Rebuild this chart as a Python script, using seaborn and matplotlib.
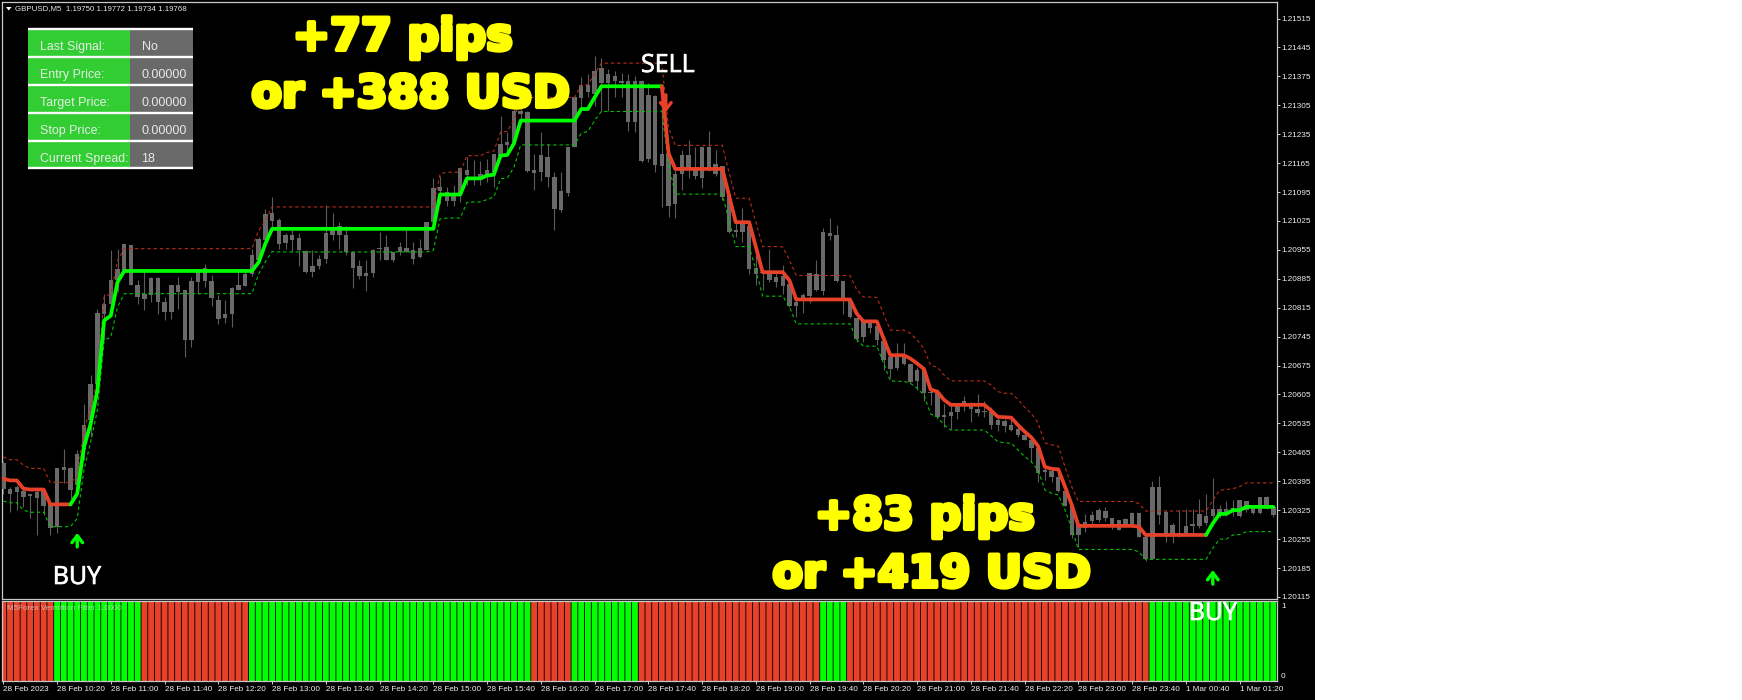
import matplotlib
matplotlib.use("Agg")
import matplotlib.pyplot as plt
import matplotlib.patheffects as pe
from matplotlib.patches import Rectangle, Polygon
import numpy as np
import pandas as pd
import seaborn as sns

# prices are stored in points above 1.20000
body_top = [438,377,380,371,364,369,373,339,428,430,428,462,532,631,802,825,883,909,970,967,
 869,849,886,888,830,869,871,857,879,909,912,879,834,801,863,869,896,942,982,1042,
 1045,1028,992,990,984,952,917,932,996,1010,1012,992,950,916,900,955,960,963,951,961,
 959,955,959,1022,1105,1107,1096,1087,1153,1149,1131,1139,1149,1186,1212,1217,1290,1292,1289,1149,
 1185,1181,1132,1097,1205,1324,1354,1354,1388,1395,1380,1376,1364,1363,1363,1363,1330,1328,1187,1187,
 1138,1184,1184,1151,1204,1205,1162,1158,1091,1002,1022,1014,911,901,899,889,891,873,829,845,
 900,897,998,997,992,880,833,789,785,779,770,734,696,698,698,680,664,666,610,609,
 555,563,577,589,585,571,566,563,543,541,531,521,507,495,475,422,421,406,372,338,
 289,296,314,325,324,305,301,303,317,317,261,381,381,321,289,269,287,291,316,311,
 329,327,327,331,349,347,336,356,357,333]
body_bot = [377,364,368,357,360,355,335,282,285,422,373,385,470,543,631,800,825,881,904,871,
 841,837,847,829,805,805,853,738,736,877,879,838,788,789,799,859,867,896,930,978,
 1026,970,971,980,954,901,901,917,932,992,992,950,911,893,891,899,957,930,930,951,
 951,934,938,955,1022,1097,1074,1074,1091,1137,1127,1123,1135,1143,1183,1209,1216,1285,1147,1141,
 1143,1132,1054,1052,1093,1205,1322,1338,1332,1360,1360,1364,1360,1265,1265,1171,1175,1161,1159,1062,
 1067,1138,1153,1135,1129,1151,1138,1083,998,998,998,909,897,899,881,877,868,819,819,833,
 843,857,855,989,879,837,793,740,743,767,738,688,666,668,680,636,638,609,608,550,
 550,553,563,579,569,559,563,531,531,529,519,507,496,475,416,418,405,372,335,265,
 265,281,300,302,307,289,278,289,289,261,208,208,313,265,266,265,270,287,287,293,
 311,313,316,321,311,325,317,317,333,313]
high_pts = [443,381,385,377,365,381,377,345,428,474,430,470,581,653,813,849,954,958,970,967,
 881,901,889,889,841,869,889,857,889,909,921,895,845,833,865,901,901,958,986,1053,
 1083,1033,996,1002,996,954,955,942,1063,1045,1022,1012,951,930,930,958,998,990,951,974,
 1002,974,982,1022,1130,1135,1107,1111,1155,1179,1173,1170,1175,1187,1278,1240,1304,1316,1291,1187,
 1241,1211,1143,1143,1205,1326,1374,1380,1425,1420,1392,1388,1384,1380,1376,1365,1360,1330,1356,1200,
 1151,1196,1221,1204,1205,1242,1196,1159,1100,1026,1057,1022,950,905,956,901,919,881,841,851,
 900,931,1009,1033,1016,880,837,793,785,785,777,741,700,729,729,682,672,668,620,612,
 583,583,583,601,588,606,589,574,549,545,551,527,519,499,483,430,426,414,374,342,
 293,316,324,330,333,305,301,305,321,319,265,396,408,325,293,325,328,329,353,363,
 402,337,347,349,349,348,336,356,359,335]
low_pts = [365,321,325,333,305,265,313,265,269,391,353,365,446,502,607,736,796,853,901,869,
 825,809,829,800,786,788,813,696,720,849,865,818,776,778,768,857,867,891,925,970,
 1006,956,958,951,917,900,889,909,923,980,958,942,863,885,855,889,931,930,926,942,
 950,921,936,954,1006,1066,1061,1061,1070,1111,1111,1111,1119,1107,1179,1183,1212,1260,1143,1099,
 1121,1108,1002,1046,1086,1203,1300,1324,1304,1292,1292,1324,1324,1242,1240,1167,1167,1143,1058,1034,
 1033,1101,1129,1127,1105,1147,1135,1075,997,986,974,897,870,857,877,865,849,817,793,802,
 827,855,845,980,877,801,789,732,733,754,725,664,644,664,676,632,617,590,579,545,
 527,521,545,566,539,553,551,521,517,515,517,501,496,442,392,398,394,370,334,257,
 237,271,290,296,300,279,277,285,287,259,203,206,291,249,245,261,265,265,283,289,
 305,307,311,311,309,321,315,316,329,309]
mid_pts = [401,397,397,377,375,375,375,339,339,339,339,365,478,534,615,784,796,877,904,904,
 904,904,904,904,904,904,904,904,904,904,904,904,904,904,904,904,904,904,925,970,
 1006,1006,1006,1006,1006,1006,1006,1006,1006,1006,1006,1006,1006,1006,1006,1006,1006,1006,1006,1006,
 1006,1006,1006,1006,1006,1089,1089,1089,1089,1128,1128,1128,1135,1137,1183,1185,1213,1268,1268,1268,
 1268,1268,1268,1268,1268,1268,1296,1296,1324,1351,1351,1351,1351,1351,1351,1351,1351,1351,1351,1189,
 1151,1151,1151,1151,1151,1151,1151,1151,1087,1022,1022,1022,962,901,901,901,901,881,835,835,
 835,835,835,835,835,835,835,801,782,782,782,741,700,700,700,692,680,667,617,612,
 592,580,580,580,580,580,580,566,551,550,549,531,515,501,480,430,425,424,382,338,
 287,287,287,287,287,287,287,287,287,285,265,265,265,265,265,265,265,265,265,265,
 293,316,316,325,325,333,333,333,333,333]
upper_pts = [454,447,447,434,426,426,426,392,392,392,392,406,518,575,639,841,849,929,958,958,
 958,958,958,958,958,958,958,958,958,958,958,958,958,958,958,958,958,958,1002,1026,
 1059,1059,1059,1059,1059,1059,1059,1059,1059,1059,1059,1059,1059,1059,1059,1059,1059,1059,1059,1059,
 1059,1059,1059,1059,1059,1139,1143,1143,1143,1183,1183,1183,1191,1194,1240,1242,1270,1324,1324,1324,
 1324,1324,1324,1324,1324,1324,1353,1355,1381,1407,1407,1407,1407,1407,1407,1407,1407,1407,1407,1251,
 1208,1208,1208,1208,1208,1208,1208,1208,1143,1080,1080,1080,1022,963,963,963,962,930,893,893,
 893,893,893,893,893,893,893,859,841,841,840,800,761,760,761,753,737,716,676,671,
 652,638,638,638,638,638,638,628,612,608,608,593,574,559,535,488,483,480,430,382,
 346,346,346,346,346,346,346,346,346,341,323,323,323,323,323,323,323,323,323,323,
 349,373,375,377,382,391,391,391,391,391]
lower_pts = [347,343,343,325,320,320,320,285,285,285,285,305,422,490,567,736,744,817,849,849,
 849,849,849,849,849,849,849,849,849,849,849,849,849,849,849,849,849,849,897,926,
 951,950,950,950,950,950,950,950,950,950,950,950,950,950,950,950,950,950,950,950,
 950,950,950,950,954,1030,1032,1032,1032,1070,1071,1071,1077,1083,1127,1129,1155,1209,1209,1209,
 1209,1209,1209,1209,1209,1209,1237,1242,1268,1290,1290,1290,1290,1290,1290,1290,1290,1290,1291,1163,
 1090,1090,1090,1090,1090,1090,1090,1090,1026,963,963,963,906,843,843,843,843,817,776,776,
 776,776,776,776,776,776,776,738,722,722,722,680,638,637,637,632,620,604,558,551,
 531,519,519,519,519,519,519,505,491,488,487,471,455,442,422,374,366,362,326,281,
 230,230,230,230,230,230,230,230,230,224,206,206,206,206,206,206,206,206,206,206,
 233,255,255,265,266,273,273,273,273,273]
filter_up = [0,0,0,0,0,0,0,0,1,1,1,1,1,1,1,1,1,1,1,1,
 1,0,0,0,0,0,0,0,0,0,0,0,0,0,0,0,0,1,1,1,
 1,1,1,1,1,1,1,1,1,1,1,1,1,1,1,1,1,1,1,1,
 1,1,1,1,1,1,1,1,1,1,1,1,1,1,1,1,1,1,1,0,
 0,0,0,0,0,1,1,1,1,1,1,1,1,1,1,0,0,0,0,0,
 0,0,0,0,0,0,0,0,0,0,0,0,0,0,0,0,0,0,0,0,
 0,0,1,1,1,1,0,0,0,0,0,0,0,0,0,0,0,0,0,0,
 0,0,0,0,0,0,0,0,0,0,0,0,0,0,0,0,0,0,0,0,
 0,0,0,0,0,0,0,0,0,0,0,1,1,1,1,1,1,1,1,1,
 1,1,1,1,1,1,1,1,1,1]
price_ticks = ["1.20115","1.20185","1.20255","1.20325","1.20395","1.20465","1.20535","1.20605",
 "1.20675","1.20745","1.20815","1.20885","1.20955","1.21025","1.21095","1.21165","1.21235",
 "1.21305","1.21375","1.21445","1.21515"]
time_ticks = ["28 Feb 2023","28 Feb 10:20","28 Feb 11:00","28 Feb 11:40","28 Feb 12:20","28 Feb 13:00",
 "28 Feb 13:40","28 Feb 14:20","28 Feb 15:00","28 Feb 15:40","28 Feb 16:20","28 Feb 17:00",
 "28 Feb 17:40","28 Feb 18:20","28 Feb 19:00","28 Feb 19:40","28 Feb 20:20","28 Feb 21:00",
 "28 Feb 21:40","28 Feb 22:20","28 Feb 23:00","28 Feb 23:40","1 Mar 00:40","1 Mar 01:20"]
panel_labels = ["Last Signal:","Entry Price:","Target Price:","Stop Price:","Current Spread:"]
panel_values = ["No","0.00000","0.00000","0.00000","18"]

W, H = 1742, 700
GREEN, RED = "#00ff00", "#e8412a"
sns.set_theme(style="dark", rc={"axes.facecolor": "black", "figure.facecolor": "white"})
plt.rcParams["font.family"] = ["Liberation Sans", "DejaVu Sans"]

fig = plt.figure(figsize=(W / 100, H / 100), dpi=100)
fig.patches.append(Rectangle((0, 0), 1315 / W, 1, transform=fig.transFigure, fc="black", ec="none", zorder=-5))

def box(x0, y0, x1, y1):
    return [x0 / W, 1 - y1 / H, (x1 - x0) / W, (y1 - y0) / H]

ax = fig.add_axes(box(2.3, 2, 1277, 599))
sub = fig.add_axes(box(2.3, 600.5, 1277, 681))
ov = fig.add_axes([0, 0, 1, 1], zorder=10)
ov.set_xlim(0, W); ov.set_ylim(H, 0); ov.axis("off"); ov.patch.set_alpha(0)

df = pd.DataFrame({
    "bar": np.arange(len(mid_pts)),
    "mid": 1.2 + np.array(mid_pts) * 1e-5,
    "upper": 1.2 + np.array(upper_pts) * 1e-5,
    "lower": 1.2 + np.array(lower_pts) * 1e-5,
    "top": 1.2 + np.array(body_top) * 1e-5,
    "bot": 1.2 + np.array(body_bot) * 1e-5,
    "high": 1.2 + np.array(high_pts) * 1e-5,
    "low": 1.2 + np.array(low_pts) * 1e-5,
    "up": filter_up,
})

# candles
ax.vlines(df.bar, df.low, df.high, color="#5c5c5c", lw=0.8, zorder=2)
ax.bar(df.bar, df.top - df.bot, bottom=df.bot, width=0.66, color="#696969", lw=0, zorder=3)

# envelope lines
sns.lineplot(data=df, x="bar", y="upper", ax=ax, color="#b82c1a", lw=0.8, dashes=(3, 2.6), zorder=4, errorbar=None)
sns.lineplot(data=df, x="bar", y="lower", ax=ax, color="#00c400", lw=0.8, dashes=(3, 2.6), zorder=4, errorbar=None)

# main line, coloured by trend
for a, b, c in [(0, 10, RED), (10, 98, GREEN), (98, 179, RED), (179, 189, GREEN)]:
    seg = df[(df.bar >= a) & (df.bar <= b)]
    sns.lineplot(data=seg, x="bar", y="mid", ax=ax, color=c, lw=2.7, zorder=5, errorbar=None)

# signal arrows
for i, p0, p1, c in [(11, 236, 270, GREEN), (180, 146, 180, GREEN), (98.6, 1330, 1288, RED)]:
    ax.annotate("", xy=(i, 1.2 + p1 * 1e-5), xytext=(i, 1.2 + p0 * 1e-5), zorder=6,
                arrowprops=dict(arrowstyle="->,head_width=0.32,head_length=0.42", color=c, lw=2.4, shrinkA=0, shrinkB=0))

ax.set_xlim(-0.15, 189.55)
ax.set_ylim(1.2011, 1.21555)
ax.set_xlabel(""); ax.set_ylabel("")
ax.set_xticks([])
ax.yaxis.tick_right()
ax.set_yticks([float(t) for t in price_ticks], price_ticks)
ax.tick_params(axis="y", length=2.2, width=0.7, color="#d0d0d0", labelcolor="#efefef", labelsize=5.9, pad=1.0, right=True, left=False)

# filter histogram
sub_df = pd.DataFrame({"bar": df.bar, "v": 1, "state": ["up" if u else "down" for u in filter_up]})
sns.barplot(data=sub_df, x="bar", y="v", hue="state", native_scale=True, dodge=False, legend=False,
            palette={"up": GREEN, "down": RED}, width=0.87, ax=sub, linewidth=0, saturation=1, errorbar=None)
for p in sub.patches:
    p.set_snap(False)
sub.set_xlim(-0.15, 189.55)
sub.set_ylim(0, 1.015)
sub.set_xlabel(""); sub.set_ylabel("")
sub.set_yticks([])
tick_bars = np.arange(len(time_ticks)) * 8
sub.set_xticks(tick_bars, time_ticks, ha="left")
sub.tick_params(axis="x", length=2.2, width=0.7, color="#d0d0d0", labelcolor="#efefef", labelsize=5.9, pad=1.6, bottom=True)

for a in (ax, sub):
    for s in a.spines.values():
        s.set_visible(True); s.set_color("#c8c8c8"); s.set_linewidth(0.9)

# overlays in pixel positions
ov.text(1281, 607, "1", color="#efefef", fontsize=5.9, va="center")
ov.text(1281, 676, "0", color="#efefef", fontsize=5.9, va="center")
ov.add_patch(Polygon([(6, 7), (11.5, 7), (8.7, 10.5)], fc="white", ec="none"))
ov.text(15.3, 9, "GBPUSD,M5  1.19750 1.19772 1.19734 1.19768", color="#e8e8e8", fontsize=5.7, va="center")
ov.text(6.5, 609, "M5Forex Vermillion Filter 1.0000", color="#e0e0e0", alpha=0.7, fontsize=5.8, va="center")

ov.add_patch(Rectangle((28, 29), 101.5, 140, fc="#32cd32", ec="none"))
ov.add_patch(Rectangle((129.8, 29), 63.2, 140, fc="#696969", ec="none"))
rows = [29.3, 57.3, 85, 113, 140.7, 168.3]
for y in rows:
    ov.plot([28.3, 193], [y, y], color="white", lw=1.7, solid_capstyle="butt")
for k, (lab, val) in enumerate(zip(panel_labels, panel_values)):
    yc = rows[k] + 18
    ov.text(39.5, yc, lab, color="#e4eee4", fontsize=8.9, va="center")
    ov.text(141.5, yc, val, color="#e8e8e8", fontsize=9.0, va="center")

big = dict(color="#ffff00", fontsize=32, fontweight="bold", family="DejaVu Sans", ha="center", va="baseline",
           path_effects=[pe.withStroke(linewidth=3.0, foreground="#ffff00")])
ov.text(403, 50, "+77 pips", **big)
ov.text(411, 107, "or +388 USD", **big)
ov.text(925, 529, "+83 pips", **big)
ov.text(932, 587, "or +419 USD", **big)

sig = dict(color="white", fontsize=18, family="Open Sans", ha="center", va="baseline",
           path_effects=[pe.withStroke(linewidth=0.5, foreground="white")])
ov.text(77, 584, "BUY", **sig)
ov.text(668, 72, "SELL", **sig)
ov.text(1213, 620, "BUY", **sig)

fig.savefig("out.png", dpi=100, facecolor="white")
